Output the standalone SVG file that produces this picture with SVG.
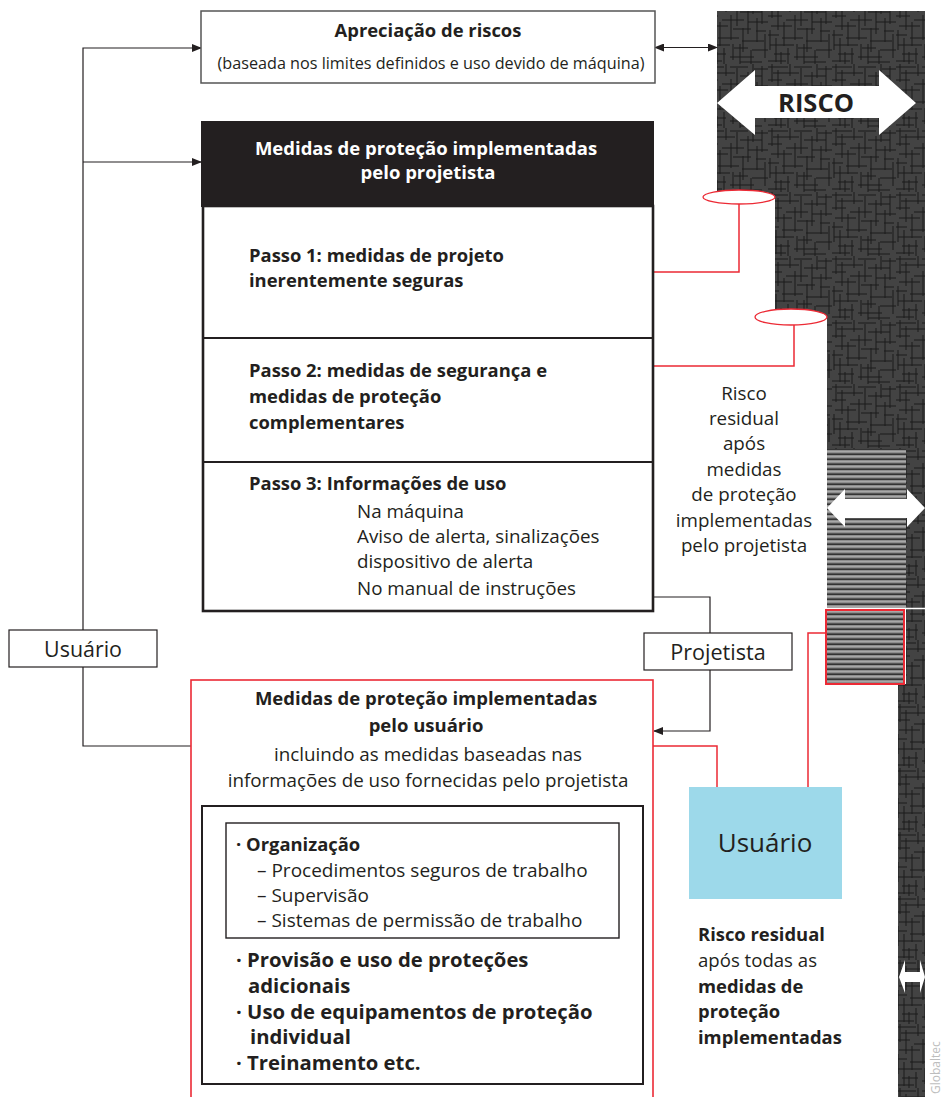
<svg xmlns="http://www.w3.org/2000/svg" width="945" height="1097" viewBox="0 0 945 1097">
<defs>
<style>
.t{font-family:"Open Sans","Noto Sans","Liberation Sans",sans-serif;fill:#231f20}
.b{font-weight:bold}
.w{fill:#fff}
.c{text-anchor:middle}
.ln{fill:none;stroke:#231f20;stroke-width:1.2}
.rd{fill:none;stroke:#ec2a35;stroke-width:1.5}
</style>
<pattern id="tex" width="64" height="64" patternUnits="userSpaceOnUse">
<rect width="64" height="64" fill="#434343"/>
<g stroke="#1b1b1b" stroke-width="1">
<path d="M0 3H20M26 3H44M50 5H64M5 9H31M36 12H58M0 16H14M18 20H40M44 22H64M3 26H24M29 29H47M52 31H62M0 35H11M14 38H35M38 41H60M2 45H26M30 48H44M48 50H64M6 54H22M26 57H50M0 61H18M36 62H58"/>
<path d="M4 0V18M10 6V30M16 22V46M22 0V12M27 15V40M33 4V26M39 28V52M44 8V34M2 30V50M49 0V14M8 38V62M36 44V64M53 18V42M58 2V24M61 34V58M20 48V64M47 50V64M13 52V64M29 44V60"/>
</g>
</pattern>
<pattern id="str" width="8" height="5" patternUnits="userSpaceOnUse">
<rect width="8" height="5" fill="#8e8e8e"/>
<rect y="3.5" width="8" height="1.3" fill="#1e1e1e"/>
<rect y="1" width="8" height="1" fill="#a8a8a8"/>
</pattern>
<marker id="ah" markerWidth="10" markerHeight="8" refX="9" refY="4" orient="auto-start-reverse" markerUnits="userSpaceOnUse">
<path d="M0 0L10 4L0 8Z" fill="#231f20"/>
</marker>
</defs>
<rect width="945" height="1097" fill="#fff"/>

<g id="risk-bar">
<path d="M717 11H925V1097H898V684H906V449H827V316H775V196H717Z" fill="url(#tex)"/>
<rect x="827" y="449" width="79" height="159" fill="url(#str)"/>
<line x1="827" y1="608.5" x2="925" y2="608.5" stroke="#fff" stroke-width="1.5"/>
<path d="M717 103L755 70V86H879V70L916 103L879 135V118H755V135Z" fill="#fff"/>
<text class="t b c" x="816" y="112" font-size="25.5">RISCO</text>
<path d="M827 508L845 489V499H907V489L925 508L907 527V518H845V527Z" fill="#fff"/>
<path d="M899 977L905 960V972H920V960L925 977L920 993V982H905V993Z" fill="#fff"/>
</g>

<g id="user-residual-block">
<rect x="826" y="610" width="78" height="74" fill="url(#str)" stroke="#ec2a35" stroke-width="2"/>
</g>

<g id="ellipses">
<ellipse cx="739" cy="197" rx="36" ry="7" fill="#fff" stroke="#ec2a35" stroke-width="1.3"/>
<ellipse cx="791" cy="317" rx="36" ry="8" fill="#fff" stroke="#ec2a35" stroke-width="1.3"/>
</g>

<g id="connectors">
<path class="ln" d="M83 630V48H201" marker-end="url(#ah)"/>
<path class="ln" d="M83 162H201" marker-end="url(#ah)"/>
<path class="ln" d="M83 667V746H191"/>
<path class="ln" d="M655 47.5H717" marker-start="url(#ah)" marker-end="url(#ah)"/>
<path class="ln" d="M654 597H710V633"/>
<path class="ln" d="M710 670V731H654" marker-end="url(#ah)"/>
<path class="rd" d="M654 272H739V204"/>
<path class="rd" d="M654 366H794V325"/>
<path class="rd" d="M653 746H717V787"/>
<path class="rd" d="M826 633H808V787"/>
</g>

<g id="risk-assessment">
<rect x="201" y="11" width="454" height="72" fill="#fff" stroke="#555" stroke-width="1.5"/>
<text class="t b c" x="428" y="37" font-size="18.4">Apreciação de riscos</text>
<text class="t c" x="431" y="69" font-size="16.2">(baseada nos limites definidos e uso devido de máquina)</text>
</g>

<g id="designer-measures">
<rect x="201" y="121" width="453" height="86" fill="#231f20"/>
<text class="t b c w" x="426" y="155" font-size="18.5">Medidas de proteção implementadas</text>
<text class="t b c w" x="428" y="179" font-size="18.5">pelo projetista</text>
<rect x="203" y="206" width="450" height="405" fill="#fff" stroke="#231f20" stroke-width="2.6"/>
<line x1="203" y1="338" x2="653" y2="338" stroke="#231f20" stroke-width="2"/>
<line x1="203" y1="462" x2="653" y2="462" stroke="#231f20" stroke-width="2"/>
</g>

<g id="step1">
<text class="t b" x="249" y="262" font-size="18.4">Passo 1: medidas de projeto</text>
<text class="t b" x="249" y="287" font-size="18.4">inerentemente seguras</text>
</g>
<g id="step2">
<text class="t b" x="249" y="377" font-size="18.4">Passo 2: medidas de segurança e</text>
<text class="t b" x="249" y="403" font-size="18.4">medidas de proteção</text>
<text class="t b" x="249" y="429" font-size="18.4">complementares</text>
</g>
<g id="step3">
<text class="t b" x="249" y="490" font-size="18.4">Passo 3: Informações de uso</text>
<text class="t" x="357" y="518" font-size="18.8">Na máquina</text>
<text class="t" x="357" y="543" font-size="18.8">Aviso de alerta, sinalizações</text>
<text class="t" x="357" y="568" font-size="18.8">dispositivo de alerta</text>
<text class="t" x="357" y="595" font-size="18.8">No manual de instruções</text>
</g>

<g id="residual-designer-label">
<text class="t c" x="744" y="400" font-size="18.8">Risco</text>
<text class="t c" x="744" y="425" font-size="18.8">residual</text>
<text class="t c" x="744" y="450" font-size="18.8">após</text>
<text class="t c" x="744" y="476" font-size="18.8">medidas</text>
<text class="t c" x="744" y="501" font-size="18.8">de proteção</text>
<text class="t c" x="744" y="527" font-size="18.8">implementadas</text>
<text class="t c" x="744" y="552" font-size="18.8">pelo projetista</text>
</g>

<g id="usuario-left">
<rect x="9" y="630" width="148" height="37" fill="#fff" stroke="#231f20" stroke-width="1.2"/>
<text class="t c" x="83" y="657" font-size="21.4">Usuário</text>
</g>

<g id="projetista">
<rect x="644" y="633" width="148" height="37" fill="#fff" stroke="#231f20" stroke-width="1.2"/>
<text class="t c" x="718" y="660" font-size="21.6">Projetista</text>
</g>

<g id="user-measures">
<rect x="191" y="680" width="462" height="430" fill="#fff" stroke="#ec2a35" stroke-width="1.6"/>
<text class="t b c" x="426" y="705" font-size="18.5">Medidas de proteção implementadas</text>
<text class="t b c" x="426" y="732" font-size="18.5">pelo usuário</text>
<text class="t c" x="428" y="761" font-size="18.8">incluindo as medidas baseadas nas</text>
<text class="t c" x="428" y="787" font-size="18.8">informações de uso fornecidas pelo projetista</text>
<rect x="202" y="806" width="441" height="278" fill="#fff" stroke="#231f20" stroke-width="2"/>
<rect x="226" y="823" width="393" height="115" fill="#fff" stroke="#231f20" stroke-width="1.4"/>
<text class="t b" x="236" y="851" font-size="18.4">· Organização</text>
<text class="t" x="257" y="877" font-size="19">– Procedimentos seguros de trabalho</text>
<text class="t" x="257" y="902" font-size="19">– Supervisão</text>
<text class="t" x="257" y="927" font-size="19">– Sistemas de permissão de trabalho</text>
<text class="t b" x="236" y="967" font-size="20.3">· Provisão e uso de proteções</text>
<text class="t b" x="248" y="993" font-size="20.3">adicionais</text>
<text class="t b" x="236" y="1019" font-size="20.3">· Uso de equipamentos de proteção</text>
<text class="t b" x="250" y="1044" font-size="20.3">individual</text>
<text class="t b" x="236" y="1070" font-size="20.3">· Treinamento etc.</text>
</g>

<g id="usuario-box">
<rect x="689" y="787" width="153" height="112" fill="#9dd9ea"/>
<text class="t c" x="765" y="852" font-size="26">Usuário</text>
</g>

<g id="residual-final-label">
<text class="t b" x="698" y="941" font-size="18.4">Risco residual</text>
<text class="t" x="698" y="967" font-size="18.6">após todas as</text>
<text class="t b" x="698" y="993" font-size="18.4">medidas de</text>
<text class="t b" x="698" y="1018" font-size="18.4">proteção</text>
<text class="t b" x="698" y="1044" font-size="18.4">implementadas</text>
</g>

<text class="t" transform="translate(940 1094) rotate(-90)" font-size="12" style="fill:#bdbdbd">Globaltec</text>
</svg>
